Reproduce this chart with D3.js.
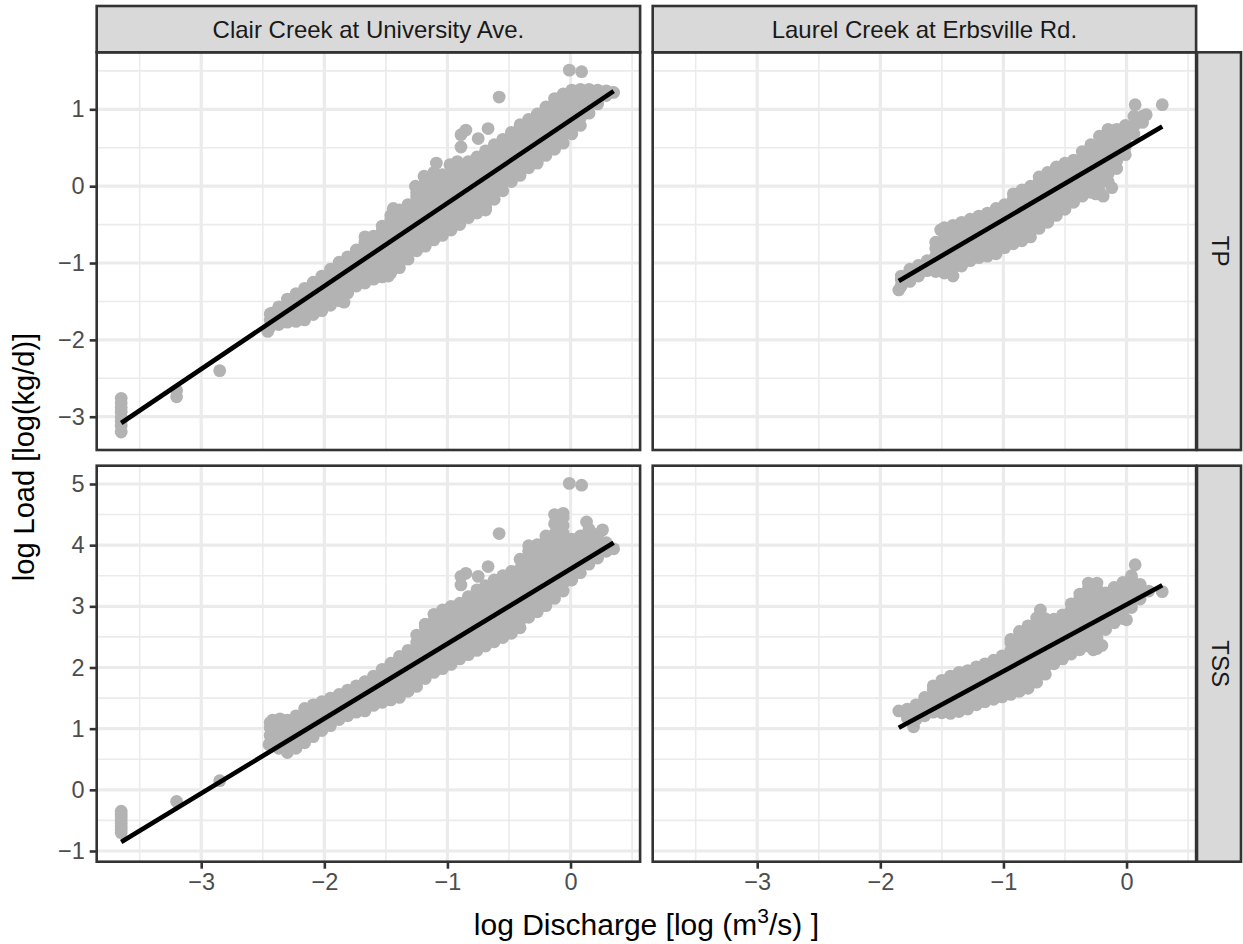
<!DOCTYPE html>
<html>
<head>
<meta charset="utf-8">
<script src="https://cdnjs.cloudflare.com/ajax/libs/d3/7.8.5/d3.min.js"></script>
<style>
body { margin: 0; background: #fff; }
svg { font-family: "Liberation Sans", Arial, sans-serif; }
</style>
</head>
<body>
<svg width="1243" height="944"></svg>
<script>
var sites = ["Clair Creek at University Ave.", "Laurel Creek at Erbsville Rd."];
var params = ["TP", "TSS"];
var xTicks = [-3, -2, -1, 0];
var xMinor = [-3.5, -2.5, -1.5, -0.5, 0.5];
var yTicks = [[-3, -2, -1, 0, 1], [-1, 0, 1, 2, 3, 4, 5]];
var yMinor = [[-2.5, -1.5, -0.5, 0.5, 1.5], [-0.5, 0.5, 1.5, 2.5, 3.5, 4.5]];
var xDomain = [-3.849, 0.565];
var yDomains = [[-3.433, 1.742], [-1.175, 5.299]];

// observations grouped by log discharge: [x, [log loads]]
var clairTP = [
  [-3.65, [-2.76, -2.82, -2.88, -2.94, -3.00, -3.06, -3.12, -3.20]],
  [-3.20, [-2.74, -2.66]],
  [-2.85, [-2.40]],
  [-2.46, [-1.89]],
  [-2.42, [-1.65]],
  [-2.44, [-1.83, -1.74, -1.66]],
  [-2.37, [-1.80, -1.70, -1.60, -1.57]],
  [-2.30, [-1.77, -1.67, -1.57, -1.47]],
  [-2.23, [-1.76, -1.66, -1.56, -1.46, -1.40]],
  [-2.16, [-1.74, -1.64, -1.54, -1.44, -1.33]],
  [-2.09, [-1.67, -1.57, -1.47, -1.37, -1.25]],
  [-2.02, [-1.62, -1.52, -1.42, -1.32, -1.22, -1.17]],
  [-1.95, [-1.55, -1.45, -1.35, -1.25, -1.15, -1.08]],
  [-1.88, [-1.49, -1.39, -1.29, -1.19, -1.09, -0.99]],
  [-1.84, [-1.51]],
  [-1.81, [-1.39, -1.29, -1.19, -1.09, -0.99, -0.92]],
  [-1.74, [-1.30, -1.20, -1.10, -1.00, -0.90, -0.83]],
  [-1.67, [-1.26, -1.16, -1.06, -0.96, -0.86, -0.76, -0.73, -0.66]],
  [-1.60, [-1.21, -1.11, -1.01, -0.91, -0.81, -0.71, -0.65]],
  [-1.53, [-1.18, -1.08, -0.98, -0.88, -0.78, -0.68, -0.58, -0.52]],
  [-1.48, [-1.17]],
  [-1.46, [-1.13, -1.03, -0.93, -0.83, -0.73, -0.63, -0.53, -0.43, -0.38]],
  [-1.44, [-0.29]],
  [-1.39, [-1.06, -0.96, -0.86, -0.76, -0.66, -0.56, -0.46, -0.36, -0.31]],
  [-1.32, [-0.95, -0.85, -0.75, -0.65, -0.55, -0.45, -0.35, -0.24]],
  [-1.26, [0.00]],
  [-1.25, [-0.84, -0.74, -0.64, -0.54, -0.44, -0.34, -0.24, -0.14, -0.09]],
  [-1.19, [0.13]],
  [-1.18, [-0.78, -0.68, -0.58, -0.48, -0.38, -0.28, -0.18, -0.08, 0.02, 0.06]],
  [-1.11, [-0.70, -0.60, -0.50, -0.40, -0.30, -0.20, -0.10, 0.00, 0.10, 0.18]],
  [-1.09, [0.30]],
  [-1.04, [-0.64, -0.54, -0.44, -0.34, -0.24, -0.14, -0.04, 0.06, 0.15]],
  [-0.98, [0.28]],
  [-0.97, [-0.57, -0.47, -0.37, -0.27, -0.17, -0.07, 0.03, 0.13, 0.20]],
  [-0.92, [0.32]],
  [-0.90, [-0.50, -0.40, -0.30, -0.20, -0.10, 0.00, 0.10, 0.20, 0.25]],
  [-0.89, [0.51, 0.67]],
  [-0.85, [0.73]],
  [-0.83, [-0.41, -0.31, -0.21, -0.11, -0.01, 0.09, 0.19, 0.29, 0.32]],
  [-0.76, [-0.35, -0.25, -0.15, -0.05, 0.05, 0.15, 0.25, 0.35, 0.38]],
  [-0.75, [0.62]],
  [-0.69, [-0.31, -0.27, -0.17, -0.07, 0.03, 0.13, 0.23, 0.33, 0.43, 0.46]],
  [-0.67, [0.75]],
  [-0.62, [-0.17, -0.07, 0.03, 0.13, 0.23, 0.33, 0.43, 0.54]],
  [-0.58, [1.16]],
  [-0.55, [-0.06, 0.04, 0.14, 0.24, 0.34, 0.44, 0.54, 0.61]],
  [-0.48, [0.06, 0.16, 0.26, 0.36, 0.46, 0.56, 0.66, 0.70]],
  [-0.41, [0.14, 0.24, 0.34, 0.44, 0.54, 0.64, 0.74, 0.80]],
  [-0.34, [0.24, 0.34, 0.44, 0.54, 0.64, 0.74, 0.84, 0.87]],
  [-0.27, [0.30, 0.40, 0.50, 0.60, 0.70, 0.80, 0.90, 0.94]],
  [-0.20, [0.40, 0.50, 0.60, 0.70, 0.80, 0.90, 1.00, 1.03]],
  [-0.13, [0.48, 0.58, 0.68, 0.78, 0.88, 0.98, 1.08, 1.14]],
  [-0.06, [0.56, 0.66, 0.76, 0.86, 0.96, 1.06, 1.16, 1.20]],
  [-0.01, [1.51]],
  [0.01, [0.68, 0.78, 0.88, 0.98, 1.08, 1.18, 1.25]],
  [0.08, [0.79, 0.89, 0.99, 1.09, 1.19, 1.26]],
  [0.09, [1.49]],
  [0.15, [0.95, 1.05, 1.15, 1.26]],
  [0.22, [1.07, 1.17, 1.25]],
  [0.29, [1.18, 1.24]],
  [0.35, [1.22]]
];

var laurelTP = [
  [-1.85, [-1.35]],
  [-1.83, [-1.30, -1.22, -1.17]],
  [-1.76, [-1.24, -1.16, -1.08]],
  [-1.69, [-1.17, -1.10, -1.03]],
  [-1.62, [-1.10, -1.04, -0.97]],
  [-1.55, [-1.11, -1.01, -0.91, -0.81, -0.73]],
  [-1.51, [-0.57]],
  [-1.48, [-1.13, -1.03, -0.93, -0.83, -0.73, -0.63, -0.54]],
  [-1.41, [-1.17, -1.07, -0.97, -0.87, -0.77, -0.67, -0.57, -0.51]],
  [-1.34, [-1.04, -0.94, -0.84, -0.74, -0.64, -0.54, -0.47]],
  [-1.27, [-0.97, -0.87, -0.77, -0.67, -0.57, -0.47, -0.43]],
  [-1.20, [-0.93, -0.83, -0.73, -0.63, -0.53, -0.43, -0.39]],
  [-1.13, [-0.91, -0.81, -0.71, -0.61, -0.51, -0.41, -0.35]],
  [-1.06, [-0.88, -0.78, -0.68, -0.58, -0.48, -0.38, -0.29]],
  [-0.99, [-0.80, -0.70, -0.60, -0.50, -0.40, -0.30, -0.24]],
  [-0.92, [-0.75, -0.65, -0.55, -0.45, -0.35, -0.25, -0.17, -0.10]],
  [-0.85, [-0.71, -0.61, -0.51, -0.41, -0.31, -0.21, -0.13, -0.05]],
  [-0.78, [-0.66, -0.56, -0.46, -0.36, -0.26, -0.16, -0.09, 0.00]],
  [-0.71, [-0.55, -0.45, -0.35, -0.25, -0.15, -0.05, 0.07, 0.12]],
  [-0.64, [-0.47, -0.37, -0.27, -0.17, -0.07, 0.03, 0.14, 0.18]],
  [-0.57, [-0.38, -0.28, -0.18, -0.08, 0.02, 0.12, 0.18, 0.25]],
  [-0.50, [-0.30, -0.20, -0.10, 0.00, 0.10, 0.22, 0.30]],
  [-0.43, [-0.21, -0.11, -0.01, 0.09, 0.19, 0.28, 0.34]],
  [-0.36, [-0.13, -0.03, 0.07, 0.17, 0.27, 0.37, 0.45]],
  [-0.29, [-0.08, 0.02, 0.12, 0.22, 0.32, 0.42, 0.54]],
  [-0.25, [-0.10]],
  [-0.22, [-0.07, 0.03, 0.13, 0.23, 0.33, 0.43, 0.53, 0.65]],
  [-0.19, [-0.13]],
  [-0.15, [0.06, 0.16, 0.26, 0.36, 0.46, 0.56, 0.66, 0.74]],
  [-0.12, [-0.02]],
  [-0.08, [0.23, 0.33, 0.43, 0.53, 0.63, 0.74]],
  [-0.01, [0.41, 0.51, 0.61, 0.71, 0.79]],
  [0.06, [0.68, 0.78, 0.91]],
  [0.07, [1.06]],
  [0.13, [0.83, 0.91]],
  [0.16, [0.93]],
  [0.29, [1.06]]
];

var clairTSS = [
  [-3.65, [-0.35, -0.40, -0.45, -0.50, -0.55, -0.60, -0.65, -0.70]],
  [-3.20, [-0.19]],
  [-2.85, [0.15]],
  [-2.45, [0.74]],
  [-2.42, [1.14, 0.93]],
  [-2.36, [1.16]],
  [-2.44, [0.77, 0.89, 1.01, 1.10]],
  [-2.37, [0.68, 0.80, 0.92, 1.04, 1.10]],
  [-2.30, [0.61, 0.73, 0.85, 0.97, 1.09, 1.14]],
  [-2.23, [0.68, 0.80, 0.92, 1.04, 1.16, 1.21]],
  [-2.16, [0.77, 0.89, 1.01, 1.13, 1.25, 1.33]],
  [-2.09, [0.87, 0.99, 1.11, 1.23, 1.35, 1.39]],
  [-2.02, [0.97, 1.09, 1.21, 1.33, 1.44]],
  [-1.95, [1.05, 1.17, 1.29, 1.41, 1.50]],
  [-1.88, [1.15, 1.27, 1.39, 1.51, 1.56]],
  [-1.81, [1.21, 1.33, 1.45, 1.57, 1.63]],
  [-1.74, [1.27, 1.39, 1.51, 1.63, 1.70]],
  [-1.67, [1.29, 1.41, 1.53, 1.65, 1.77]],
  [-1.60, [1.38, 1.50, 1.62, 1.74, 1.86]],
  [-1.53, [1.43, 1.55, 1.67, 1.79, 1.91, 1.97]],
  [-1.46, [1.47, 1.59, 1.71, 1.83, 1.95, 2.07]],
  [-1.39, [1.51, 1.63, 1.75, 1.87, 1.99, 2.11, 2.18]],
  [-1.32, [1.61, 1.73, 1.85, 1.97, 2.09, 2.21, 2.28]],
  [-1.25, [1.69, 1.81, 1.93, 2.05, 2.17, 2.29, 2.41, 2.53]],
  [-1.18, [1.82, 1.94, 2.06, 2.18, 2.30, 2.42, 2.54, 2.66, 2.71]],
  [-1.11, [1.92, 2.04, 2.16, 2.28, 2.40, 2.52, 2.64, 2.76, 2.87]],
  [-1.04, [1.98, 2.10, 2.22, 2.34, 2.46, 2.58, 2.70, 2.82, 2.94]],
  [-0.97, [2.05, 2.17, 2.29, 2.41, 2.53, 2.65, 2.77, 2.89, 3.00]],
  [-0.90, [2.14, 2.26, 2.38, 2.50, 2.62, 2.74, 2.86, 2.98, 3.05]],
  [-0.89, [3.35, 3.49]],
  [-0.85, [3.54]],
  [-0.83, [2.21, 2.33, 2.45, 2.57, 2.69, 2.81, 2.93, 3.05, 3.16]],
  [-0.76, [2.28, 2.40, 2.52, 2.64, 2.76, 2.88, 3.00, 3.12, 3.27]],
  [-0.75, [3.49]],
  [-0.69, [2.35, 2.47, 2.59, 2.71, 2.83, 2.95, 3.07, 3.19, 3.34]],
  [-0.67, [3.65]],
  [-0.62, [2.42, 2.54, 2.66, 2.78, 2.90, 3.02, 3.14, 3.26, 3.43]],
  [-0.58, [4.19]],
  [-0.55, [2.49, 2.61, 2.73, 2.85, 2.97, 3.09, 3.21, 3.33, 3.50]],
  [-0.48, [2.56, 2.68, 2.80, 2.92, 3.04, 3.16, 3.28, 3.40, 3.57]],
  [-0.41, [2.65, 2.77, 2.89, 3.01, 3.13, 3.25, 3.37, 3.49, 3.61, 3.77]],
  [-0.34, [2.82, 2.94, 3.06, 3.18, 3.30, 3.42, 3.54, 3.66, 3.78, 3.90, 3.99]],
  [-0.27, [2.91, 3.03, 3.15, 3.27, 3.39, 3.51, 3.63, 3.75, 3.87, 4.01]],
  [-0.20, [3.01, 3.13, 3.25, 3.37, 3.49, 3.61, 3.73, 3.85, 3.97, 4.09, 4.15]],
  [-0.13, [3.13, 3.25, 3.37, 3.49, 3.61, 3.73, 3.85, 3.97, 4.09, 4.18, 4.35, 4.50]],
  [-0.06, [3.25, 3.37, 3.49, 3.61, 3.73, 3.85, 3.97, 4.09, 4.20, 4.32, 4.45, 4.52]],
  [-0.01, [5.01]],
  [0.01, [3.43, 3.55, 3.67, 3.79, 3.91, 4.03, 4.10]],
  [0.08, [3.55, 3.67, 3.79, 3.91, 4.03, 4.15]],
  [0.09, [4.98]],
  [0.13, [4.38]],
  [0.15, [3.69, 3.81, 3.93, 4.05, 4.17, 4.26]],
  [0.22, [3.79, 3.91, 4.03, 4.15, 4.18]],
  [0.26, [4.25]],
  [0.29, [3.90, 3.98, 4.04]],
  [0.35, [3.94]]
];

var laurelTSS = [
  [-1.85, [1.29]],
  [-1.78, [1.17, 1.25, 1.32]],
  [-1.73, [1.03]],
  [-1.71, [1.15, 1.27, 1.39]],
  [-1.64, [1.21, 1.33, 1.45, 1.51]],
  [-1.57, [1.27, 1.39, 1.51, 1.63, 1.70]],
  [-1.50, [1.26, 1.38, 1.50, 1.62, 1.74, 1.79]],
  [-1.43, [1.25, 1.37, 1.49, 1.61, 1.73, 1.86]],
  [-1.36, [1.28, 1.40, 1.52, 1.64, 1.76, 1.88, 1.92]],
  [-1.29, [1.32, 1.44, 1.56, 1.68, 1.80, 1.92, 1.95]],
  [-1.22, [1.39, 1.51, 1.63, 1.75, 1.87, 2.01]],
  [-1.15, [1.44, 1.56, 1.68, 1.80, 1.92, 2.06]],
  [-1.08, [1.48, 1.60, 1.72, 1.84, 1.96, 2.08, 2.12]],
  [-1.01, [1.52, 1.64, 1.76, 1.88, 2.00, 2.12, 2.19]],
  [-0.94, [1.56, 1.68, 1.80, 1.92, 2.04, 2.16, 2.28, 2.40, 2.46]],
  [-0.87, [1.61, 1.73, 1.85, 1.97, 2.09, 2.21, 2.33, 2.45, 2.59]],
  [-0.80, [1.66, 1.78, 1.90, 2.02, 2.14, 2.26, 2.38, 2.50, 2.62, 2.68]],
  [-0.73, [1.76, 1.88, 2.00, 2.12, 2.24, 2.36, 2.48, 2.60, 2.72, 2.81]],
  [-0.70, [2.94]],
  [-0.66, [1.89, 2.01, 2.13, 2.25, 2.37, 2.49, 2.61, 2.73, 2.80]],
  [-0.59, [2.06, 2.18, 2.30, 2.42, 2.54, 2.66, 2.79]],
  [-0.52, [2.14, 2.26, 2.38, 2.50, 2.62, 2.74, 2.86]],
  [-0.45, [2.22, 2.34, 2.46, 2.58, 2.70, 2.82, 2.94, 3.04]],
  [-0.38, [2.29, 2.41, 2.53, 2.65, 2.77, 2.89, 3.01, 3.13, 3.20]],
  [-0.31, [2.35, 2.47, 2.59, 2.71, 2.83, 2.95, 3.07, 3.19, 3.29, 3.38]],
  [-0.27, [2.29]],
  [-0.24, [2.31, 2.49, 2.61, 2.73, 2.85, 2.97, 3.09, 3.21, 3.28, 3.38]],
  [-0.20, [2.36]],
  [-0.17, [2.62, 2.74, 2.86, 2.98, 3.10, 3.22]],
  [-0.10, [2.73, 2.85, 2.97, 3.09, 3.21, 3.31]],
  [-0.03, [2.80, 2.92, 3.04, 3.16, 3.28, 3.39]],
  [0.00, [2.78]],
  [0.04, [2.98, 3.10, 3.22, 3.34, 3.46, 3.50]],
  [0.07, [3.68]],
  [0.11, [3.12, 3.24, 3.36]],
  [0.18, [3.25]],
  [0.29, [3.24]]
];

// lm fits: rows TP, TSS; columns Clair, Laurel
var fitIntercept = [[0.86, 0.504], [3.611, 3.030]];
var fitSlope = [[1.08, 0.939], [1.223, 1.09]];

var panelData = [[clairTP, laurelTP], [clairTSS, laurelTSS]];

// layout
var panelX = [96.7, 652.7], panelW = 543.4;
var panelY = [52.3, 465.7], panelH = [397.7, 396];
var stripTop = 6, stripRightX = 1197, stripRightW = 44;

var svg = d3.select("svg");

function flatten(cols) {
  var pts = [];
  cols.forEach(function(c) {
    c[1].forEach(function(v) { pts.push({x: c[0], y: v}); });
  });
  return pts;
}

for (var r = 0; r < 2; r++) {
  for (var c = 0; c < 2; c++) {
    var x = d3.scaleLinear().domain(xDomain).range([panelX[c], panelX[c] + panelW]);
    var y = d3.scaleLinear().domain(yDomains[r]).range([panelY[r] + panelH[r], panelY[r]]);
    var g = svg.append("g");

    g.append("rect")
      .attr("x", panelX[c]).attr("y", panelY[r])
      .attr("width", panelW).attr("height", panelH[r])
      .attr("fill", "white");

    // minor grid
    g.selectAll(".mx").data(xMinor).enter().append("line")
      .attr("x1", x).attr("x2", x)
      .attr("y1", panelY[r]).attr("y2", panelY[r] + panelH[r])
      .attr("stroke", "#EBEBEB").attr("stroke-width", 1.6);
    g.selectAll(".my").data(yMinor[r]).enter().append("line")
      .attr("y1", y).attr("y2", y)
      .attr("x1", panelX[c]).attr("x2", panelX[c] + panelW)
      .attr("stroke", "#EBEBEB").attr("stroke-width", 1.6);
    // major grid
    g.selectAll(".gx").data(xTicks).enter().append("line")
      .attr("x1", x).attr("x2", x)
      .attr("y1", panelY[r]).attr("y2", panelY[r] + panelH[r])
      .attr("stroke", "#EBEBEB").attr("stroke-width", 3.2);
    g.selectAll(".gy").data(yTicks[r]).enter().append("line")
      .attr("y1", y).attr("y2", y)
      .attr("x1", panelX[c]).attr("x2", panelX[c] + panelW)
      .attr("stroke", "#EBEBEB").attr("stroke-width", 3.2);

    // points
    var pts = flatten(panelData[r][c]);
    g.selectAll("circle").data(pts).enter().append("circle")
      .attr("cx", function(d) { return x(d.x); })
      .attr("cy", function(d) { return y(d.y); })
      .attr("r", 6.4)
      .attr("fill", "#B3B3B3");

    // regression line over data range
    var ext = d3.extent(pts, function(d) { return d.x; });
    var a = fitIntercept[r][c], b = fitSlope[r][c];
    var lineData = ext.map(function(v) { return [v, a + b * v]; });
    g.append("path")
      .datum(lineData)
      .attr("d", d3.line().x(function(d) { return x(d[0]); }).y(function(d) { return y(d[1]); }))
      .attr("stroke", "black").attr("stroke-width", 4.6).attr("fill", "none");

    // border
    g.append("rect")
      .attr("x", panelX[c]).attr("y", panelY[r])
      .attr("width", panelW).attr("height", panelH[r])
      .attr("fill", "none").attr("stroke", "#333333").attr("stroke-width", 2.6);

    // axes
    if (r == 1) {
      var ax = svg.append("g")
        .attr("transform", "translate(0," + (panelY[r] + panelH[r]) + ")")
        .call(d3.axisBottom(x).tickValues(xTicks).tickFormat(d3.format("d")).tickSize(7).tickPadding(5));
      styleAxis(ax);
    }
    if (c == 0) {
      var ay = svg.append("g")
        .attr("transform", "translate(" + panelX[c] + ",0)")
        .call(d3.axisLeft(y).tickValues(yTicks[r]).tickFormat(d3.format("d")).tickSize(7).tickPadding(5));
      styleAxis(ay);
    }
  }
}

function styleAxis(sel) {
  sel.attr("font-family", null).attr("font-size", null);
  sel.select(".domain").remove();
  sel.selectAll(".tick line").attr("stroke", "#333333").attr("stroke-width", 2.6);
  sel.selectAll(".tick text")
    .attr("fill", "#4D4D4D")
    .style("font-size", "23.5px");
}

// top strips
sites.forEach(function(s, c) {
  svg.append("rect")
    .attr("x", panelX[c]).attr("y", stripTop)
    .attr("width", panelW).attr("height", panelY[0] - stripTop)
    .attr("fill", "#D9D9D9").attr("stroke", "#333333").attr("stroke-width", 2.6);
  svg.append("text")
    .attr("x", panelX[c] + panelW / 2).attr("y", 38.3)
    .attr("text-anchor", "middle")
    .attr("fill", "#1A1A1A")
    .style("font-size", "24px")
    .text(s);
});

// right strips
params.forEach(function(p, r) {
  svg.append("rect")
    .attr("x", stripRightX).attr("y", panelY[r])
    .attr("width", stripRightW).attr("height", panelH[r])
    .attr("fill", "#D9D9D9").attr("stroke", "#333333").attr("stroke-width", 2.6);
  var cy = panelY[r] + panelH[r] / 2;
  svg.append("text")
    .attr("transform", "translate(" + (stripRightX + 14.5) + "," + cy + ") rotate(90)")
    .attr("text-anchor", "middle")
    .attr("fill", "#1A1A1A")
    .style("font-size", "24px")
    .text(p);
});

// axis titles
var xt = svg.append("text")
  .attr("x", (panelX[0] + panelX[1] + panelW) / 2).attr("y", 935)
  .attr("text-anchor", "middle")
  .attr("fill", "black")
  .style("font-size", "30px");
xt.append("tspan").text("log Discharge [log (m");
xt.append("tspan").attr("dy", -12).style("font-size", "21px").text("3");
xt.append("tspan").attr("dy", 12).text("/s) ]");

svg.append("text")
  .attr("transform", "translate(34," + ((panelY[0] + panelY[1] + panelH[1]) / 2) + ") rotate(-90)")
  .attr("text-anchor", "middle")
  .attr("fill", "black")
  .style("font-size", "29px")
  .text("log Load [log(kg/d)]");
</script>
</body>
</html>
